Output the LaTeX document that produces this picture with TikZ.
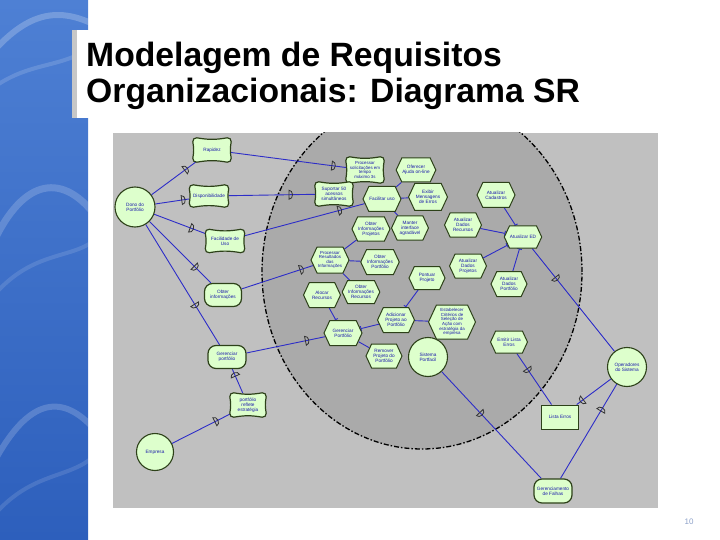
\documentclass[tikz,border=0pt]{standalone}
\usepackage{fontspec}
\setmainfont{Liberation Sans}
\usetikzlibrary{shapes.symbols,shapes.geometric,decorations.markings,arrows.meta,calc}

\definecolor{bgray}{RGB}{192,192,192}
\definecolor{egray}{RGB}{170,170,170}
\definecolor{nfill}{RGB}{221,255,204}
\definecolor{nline}{RGB}{45,65,25}
\definecolor{ntext}{RGB}{25,25,170}
\definecolor{eblue}{RGB}{45,45,200}
\definecolor{stripeA}{RGB}{78,128,212}
\definecolor{stripeB}{RGB}{45,95,188}
\definecolor{pgnum}{RGB}{140,160,200}

\pgfdeclarelayer{back}
\pgfdeclarelayer{edgelayer}
\pgfdeclarelayer{shapelayer}
\pgfsetlayers{back,edgelayer,shapelayer,main}

\newcommand\softg[1]{%
\draw[sgshape, x=1pt, y=1pt]
 ($(#1.north west)+(4pt,0pt)$) to[out=-10,in=190] ($(#1.north east)+(-4pt,0pt)$)
 to[out=10,in=80] ($(#1.north east)+(0pt,-4pt)$)
 to[out=-100,in=100] ($(#1.south east)+(0pt,4pt)$)
 to[out=-80,in=-10] ($(#1.south east)+(-4pt,0pt)$)
 to[out=170,in=10] ($(#1.south west)+(4pt,0pt)$)
 to[out=190,in=-100] ($(#1.south west)+(0pt,4pt)$)
 to[out=80,in=-80] ($(#1.north west)+(0pt,-4pt)$)
 to[out=100,in=170] ($(#1.north west)+(4pt,0pt)$) -- cycle;}

\tikzset{
 base/.style={font=\fontsize{4.7}{5.1}\selectfont, text=ntext, align=center, inner sep=0.5pt},
 tight/.style={font=\fontsize{4.4}{4.6}\selectfont},
 actor/.style={base, circle, draw=nline, line width=1.1pt, fill=nfill, minimum size=#1},
 task/.style={base, signal, signal to=west and east, signal pointer angle=130, draw=nline, line width=1pt, fill=nfill, minimum width=#1, minimum height=24},
 soft/.style={base, rectangle, minimum width=#1, minimum height=24},
 sgshape/.style={draw=nline, line width=1.2pt, fill=nfill},
 goal/.style={base, rectangle, rounded corners=8, draw=nline, line width=1.2pt, fill=nfill, minimum width=#1, minimum height=23},
 res/.style={base, rectangle, draw=nline, line width=1pt, fill=nfill, minimum width=37, minimum height=24},
 edge/.style={draw=eblue, line width=0.9pt},
 depmark/.style={draw=black!80, line width=0.8pt},
 dep/.style={decoration={markings, mark=at position #1 with {\draw[depmark] (-2.5pt,-4.5pt) -- (-2.5pt,4.5pt) arc[start angle=90,end angle=-90,x radius=3.5pt,y radius=4.5pt] -- cycle;}}, postaction=decorate},
 dec/.style={edge, -{Bar[width=5pt,line width=0.9pt]}},
 titletext/.style={anchor=base west, inner sep=0, font=\bfseries\fontsize{33.7}{34}\selectfont},
}

\begin{document}
\begin{tikzpicture}[x=1pt,y=-1pt]
\useasboundingbox (0,0) rectangle (720,540);

\begin{pgfonlayer}{back}
 % left blue stripe
 \shade[top color=stripeA, bottom color=stripeB] (0,0) rectangle (88,540);
 \begin{scope}
  \clip (0,0) rectangle (88,540);
  \draw[white, opacity=0.22, line width=6] (-10,55) .. controls (25,15) and (55,5) .. (95,25);
  \draw[white, opacity=0.15, line width=4] (-10,90) .. controls (30,60) and (60,70) .. (95,45);
  \draw[white, opacity=0.18, line width=7] (-10,250) .. controls (20,180) and (60,170) .. (95,215);
  \draw[white, opacity=0.12, line width=4] (-10,300) .. controls (30,250) and (70,260) .. (95,240);
  \draw[white, opacity=0.18, line width=6] (-10,470) .. controls (25,400) and (60,390) .. (95,430);
  \draw[white, opacity=0.12, line width=4] (-10,520) .. controls (30,470) and (70,480) .. (95,455);
 \end{scope}
 % title box
 \fill[white] (72,30) rectangle (720,118);
 \fill[black!22] (72,30) rectangle (77,118);
 % diagram background
 \fill[bgray] (113,133) rectangle (658,508);
 \begin{scope}
  \clip (113,133) rectangle (658,508);
  \fill[egray] (422,272) ellipse [x radius=160pt, y radius=177pt];
  \draw[black, line width=1.3pt, dash pattern=on 5pt off 2pt on 1.5pt off 2pt] (422,272) ellipse [x radius=160pt, y radius=177pt];
 \end{scope}
\end{pgfonlayer}

% title
\node[titletext] (t1) at (86,67) {Modelagem de Requisitos};
\node[titletext] (t2) at (86,103) {Organizacionais: Diagrama SR};
\node[font=\fontsize{8}{8}\selectfont, text=pgnum] (pg) at (689,522) {10};

% actors
\node[actor=40] (dono) at (135,207) {Dono do\\Portfólio};
\node[actor=37] (empresa) at (155,452) {Empresa};
\node[actor=39] (sistema) at (428,357) {Sistema\\Portfacil};
\node[actor=39] (oper) at (627,367) {Operadores\\do Sistema};

% softgoals
\node[soft=38] (rapidez) at (212,150) {Rapidez};
\node[soft=39,minimum height=22] (disp) at (209,196) {Disponibilidade};
\node[soft=39,minimum height=23] (facil) at (225,241) {Facilidade de\\Uso};
\node[soft=36] (reflete) at (248,405) {portfólio\\reflete\\estratégia};
\node[soft=38,minimum height=26,tight] (procsol) at (365,170) {Processar\\solicitações em\\tempo\\máximo 3s};
\node[soft=38] (suportar) at (334,194) {Suportar 50\\acessos\\simultâneos};

% goals
\node[goal=37] (obtergoal) at (223,295) {Obter\\informações};
\node[goal=38] (gergoal) at (227,357) {Gerenciar\\portfólio};
\node[goal=38,minimum height=24] (falhas) at (553,491) {Gerenciamento\\de Falhas};

% resource
\node[res] (lista) at (560,417) {Lista Erros};

% tasks
\node[task=37] (ajuda) at (416,170) {Oferecer\\Ajuda on-line};
\node[task=36,minimum height=25] (facilitar) at (382,199) {Facilitar uso};
\node[task=39,minimum height=27] (exibir) at (428,197) {Exibir\\Mensagens\\de Erros};
\node[task=37] (manter) at (410,228) {Manter\\interface\\agradável};
\node[task=37] (oiproj) at (371,229) {Obter\\Informações\\Projetos};
\node[task=38,minimum height=25] (cad) at (496,195) {Atualizar\\Cadastros};
\node[task=37,minimum height=22] (ed) at (523,237) {Atualizar ED};
\node[task=37] (adrec) at (463,225) {Atualizar\\Dados\\Recursos};
\node[task=38,minimum height=26,tight] (procres) at (330,260) {Processar\\Resultados\\das\\Informações};
\node[task=37,minimum height=25] (oiport) at (380,262) {Obter\\Informações\\Portfólio};
\node[task=37] (adproj) at (468,266) {Atualizar\\Dados\\Projetos};
\node[task=36,minimum height=25] (adport) at (509,284) {Atualizar\\Dados\\Portfólio};
\node[task=36,minimum height=23] (pontuar) at (427,278) {Pontuar\\Projeto};
\node[task=37,minimum height=25] (alocar) at (322,295) {Alocar\\Recursos};
\node[task=37,minimum height=23] (oirec) at (361,292) {Obter\\Informações\\Recursos};
\node[task=37,minimum height=25] (adic) at (396,320) {Adicionar\\Projeto ao\\Portfólio};
\node[task=47,minimum height=34,tight] (estab) at (452,322) {Estabelecer\\Critérios de\\Seleção de\\Ação com\\estratégia da\\empresa};
\node[task=38,minimum height=25] (gertask) at (343,333) {Gerenciar\\Portfólio};
\node[task=36] (remover) at (384,356) {Remover\\Projeto do\\Portfólio};
\node[task=37,minimum height=22] (emitir) at (509,342) {Emitir Lista\\Erros};

% softgoal outlines
\begin{pgfonlayer}{shapelayer}
 \softg{rapidez}
 \softg{disp}
 \softg{facil}
 \softg{reflete}
 \softg{procsol}
 \softg{suportar}
\end{pgfonlayer}

% connectors
\begin{pgfonlayer}{edgelayer}
 \draw[edge, dep=0.8] (dono) -- (rapidez);
 \draw[edge, dep=0.9] (rapidez) -- (procsol);
 \draw[edge, dep=0.85] (dono) -- (disp);
 \draw[edge, dep=0.73] (disp) -- (suportar);
 \draw[edge, dep=0.75] (dono) -- (facil);
 \draw[edge, dep=0.8] (facil) -- (facilitar);
 \draw[edge, dep=0.76] (dono) -- (obtergoal);
 \draw[edge, dep=0.85] (obtergoal) -- (procres);
 \draw[edge, dep=0.68] (dono) -- (gergoal);
 \draw[edge, dep=0.78] (gergoal) -- (gertask);
 \draw[edge, dep=0.8] (reflete) -- (gergoal);
 \draw[edge, dep=0.78] (empresa) -- (reflete);
 \draw[edge, dep=0.3] (ed) -- (oper);
 \draw[edge, dep=0.87] (oper) -- (lista);
 \draw[edge, dep=0.34] (emitir) -- (lista);
 \draw[edge, dep=0.74] (falhas) -- (oper);
 \draw[edge, dep=0.4] (sistema) -- (falhas);

 \draw[edge] (facilitar) -- (ajuda);
 \draw[edge] (facilitar) -- (exibir);
 \draw[edge] (facilitar) -- (manter);
 \draw[edge] (procres) -- (oiproj);
 \draw[edge] (procres) -- (oiport);
 \draw[edge] (procres) -- (oirec);
 \draw[dec] (cad) -- (ed);
 \draw[dec] (adrec) -- (ed);
 \draw[dec] (adproj) -- (ed);
 \draw[dec] (adport) -- (ed);
 \draw[dec] (alocar) -- (gertask);
 \draw[dec] (adic) -- (gertask);
 \draw[edge] (remover) -- (gertask);
 \draw[dec] (pontuar) -- (adic);
 \draw[edge] (estab) -- (adic);
\end{pgfonlayer}
\end{tikzpicture}
\end{document}
